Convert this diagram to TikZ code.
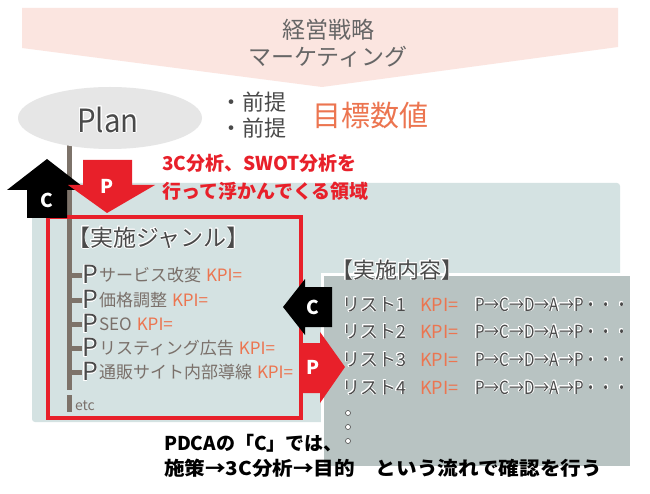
\documentclass[tikz,border=0pt]{standalone}
\usepackage{fontspec}
\setmainfont{Noto Sans CJK JP}
\usepackage[copies]{contour}
\contournumber{16}
\usetikzlibrary{shapes.geometric}
\definecolor{bannerpink}{HTML}{FBE5E0}
\definecolor{ellgray}{HTML}{E6E6E6}
\definecolor{regionblue}{HTML}{D4E2E2}
\definecolor{boxgray}{HTML}{B8C3C2}
\definecolor{pcared}{HTML}{E8202A}
\definecolor{kpiorange}{HTML}{EC7550}
\definecolor{darktext}{HTML}{4A4A4A}
\definecolor{stemgray}{HTML}{7D736A}
\definecolor{itemgray}{HTML}{7A706A}
\definecolor{bannertext}{HTML}{666666}
\newcommand{\wout}[1]{\contour{white}{#1}}
\newcommand{\fs}[1]{\fontsize{#1}{#1}\selectfont}
\begin{document}
\begin{tikzpicture}[x=1pt,y=-1pt,
  txt/.style={inner sep=0pt,outer sep=0pt,anchor=west},
  stem/.style={stemgray,line width=5pt},
  arrowblack/.style={fill=black},
  arrowred/.style={fill=pcared},
  arrowlabel/.style={inner sep=0pt,text=white,font=\fs{19}\bfseries},
  item/.style={txt,text=itemgray,font=\fs{17}},
  kpi/.style={txt,text=kpiorange,font=\fs{17}},
  bigp/.style={txt,text=darktext,font=\fs{25}},
  listtxt/.style={txt,text=darktext,font=\fs{18}},
]
\useasboundingbox (0,0) rectangle (650,494);
\fill[white] (0,0) rectangle (650,494);
% banner
\fill[bannerpink] (22,8) -- (618,8) -- (618,47) -- (322,87) -- (22,48) -- cycle;
\node[inner sep=0pt,text=bannertext,font=\fs{23}] (strategy) at (328,30) {経営戦略};
\node[inner sep=0pt,text=bannertext,font=\fs{23}] (marketing) at (328,57) {マーケティング};
% region
\fill[regionblue,rounded corners=3pt] (32,183) rectangle (620,422);
% stem
\coordinate (stemtop) at (69,140);
\coordinate (stembot) at (69,390);
\coordinate (etctop) at (69,395);
\coordinate (etcbot) at (69,412);
\draw[stem] (stemtop) -- (stembot);
\draw[stem] (etctop) -- (etcbot);
% plan
\node[ellipse,fill=ellgray,minimum width=184pt,minimum height=62pt,inner sep=0pt] (planell) at (110,118) {};
\node[inner sep=0pt,text=darktext,font=\fs{32}] (plan) at (108,120) {\wout{\scalebox{0.92}[1]{Plan}}};
\node[txt,text=darktext,font=\fs{22}] (pre1) at (220,102) {・前提};
\node[txt,text=darktext,font=\fs{22}] (pre2) at (220,128) {・前提};
\node[txt,text=kpiorange,font=\fs{29}] (goal) at (312,116) {目標数値};
% red text
\node[txt,text=pcared,font=\fs{19}\bfseries] (red1) at (162,163) {3C分析、SWOT分析を};
\node[txt,text=pcared,font=\fs{19}\bfseries] (red2) at (162,191) {行って浮かんでくる領域};
% red frame
\draw[pcared,line width=4pt] (48,217) rectangle (301,418);
\node[txt,text=darktext,font=\fs{23}] (genre) at (67,238) {\wout{【実施ジャンル】}};
% rows left
\foreach \yy/\nm/\tx in {275/r1/サービス改変, 300/r2/価格調整, 324/r3/SEO, 348/r4/リスティング広告, 372/r5/通販サイト内部導線}{
  \coordinate (t\nm) at (71,\yy);
  \node[bigp] (p\nm) at (82,\yy) {\wout{P}};
  \draw[stem] (t\nm) -- (p\nm.west);
  \node[item] (i\nm) at (99,\yy) {\tx};
  \node[kpi] (k\nm) at ([xshift=5pt]i\nm.east) {KPI=};
}
\node[txt,text=itemgray,font=\fs{14}] (etc) at (75,406) {etc};
% gray box
\fill[boxgray,draw=white,line width=3pt] (322,274) rectangle (631,467);
\node[txt,text=darktext,font=\fs{22}] (content) at (331,270) {\wout{【実施内容】}};
\foreach \yy/\n in {305/1,332/2,360/3,388/4}{
  \node[listtxt] (l\n) at (342,\yy) {\wout{リスト\n}};
  \node[txt,text=kpiorange,font=\fs{18}] (lk\n) at (420,\yy) {KPI=};
  \node[listtxt] (lf\n) at (475,\yy) {\wout{\scalebox{0.84}[1]{P→C→D→A→P・・・}}};
}
\foreach \yy/\n in {413/a,427/b,441/c}{
  \node[circle,fill=white,draw=darktext,line width=0.6pt,inner sep=0pt,minimum size=5pt] (dot\n) at (348,\yy) {};
}
% arrows
\fill[arrowblack] (47,159) -- (87,190) -- (67,190) -- (67,218) -- (27,218) -- (27,190) -- (7,190) -- cycle;
\node[arrowlabel] (cup) at (47,200) {C};
\fill[arrowred] (83,160) -- (132,160) -- (132,185) -- (155,185) -- (107,213) -- (68,185) -- (83,185) -- cycle;
\node[arrowlabel] (pdown) at (107,186) {P};
\fill[arrowblack] (283,307) -- (305,279) -- (305,287) -- (332,287) -- (332,327) -- (305,327) -- (305,335) -- cycle;
\node[arrowlabel] (cleft) at (313,307) {C};
\fill[arrowred] (302,343) -- (320,343) -- (320,332) -- (345,367) -- (320,403) -- (320,393) -- (302,393) -- cycle;
\node[arrowlabel] (pright) at (313,367) {P};
% bottom text
\node[txt,text=black,font=\fs{19}\bfseries] (note1) at (164,443) {PDCAの「C」では、};
\node[txt,text=black,font=\fs{19}\bfseries] (note2) at (164,468) {\scalebox{1.085}[1]{施策→3C分析→目的　という流れで確認を行う}};
\end{tikzpicture}
\end{document}
